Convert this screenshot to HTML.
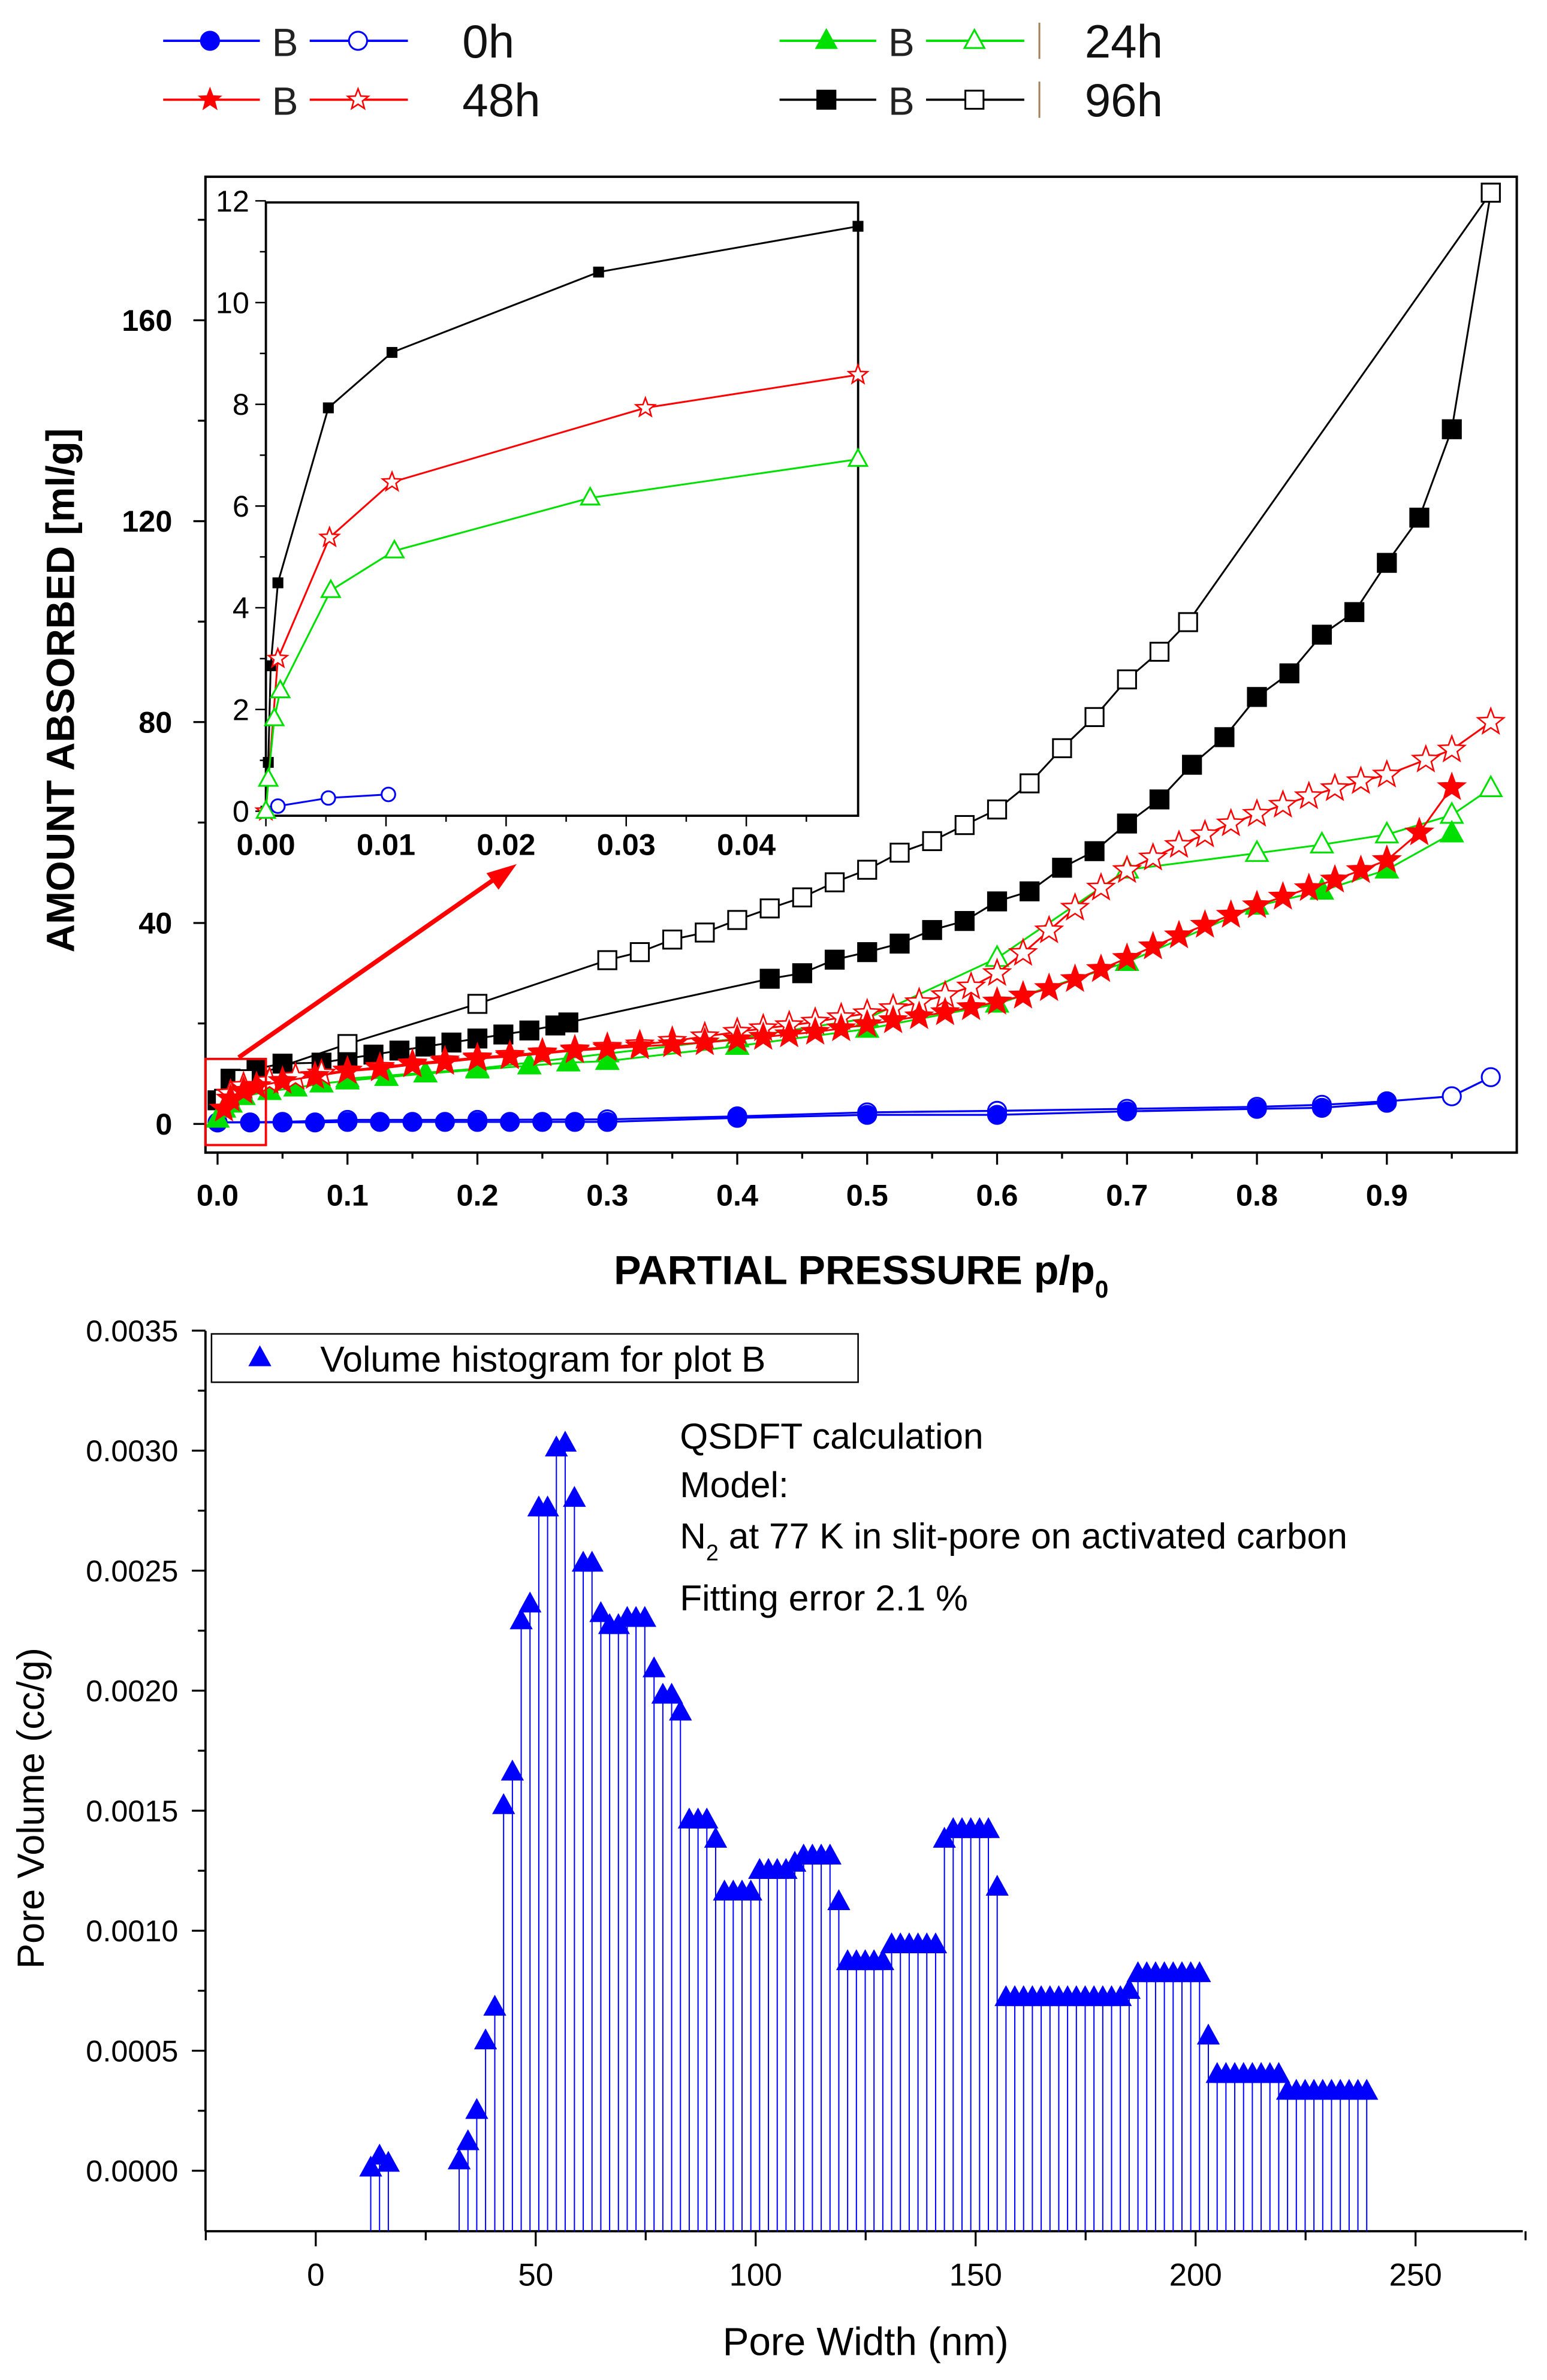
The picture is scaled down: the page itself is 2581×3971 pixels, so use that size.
<!DOCTYPE html>
<html><head><meta charset="utf-8">
<style>
html,body{margin:0;padding:0;background:#fff;}
svg{display:block;}
text{font-family:"Liberation Sans",sans-serif;}
</style></head>
<body>
<svg id="fig" xmlns="http://www.w3.org/2000/svg" width="2581" height="3971" viewBox="0 0 1024 1575.5">
<rect x="0" y="0" width="1024" height="1575.5" fill="#fff"/>
<g id="topChart"></g>
<g id="botChart"></g>
</svg>
<script>
// ---------- Isotherm data ----------
const b0AdsX=[0.0,0.025,0.05,0.075,0.1,0.125,0.15,0.175,0.2,0.225,0.25,0.275,0.3,0.4,0.5,0.6,0.7,0.8,0.85,0.9];
const b0AdsY=[0.3,0.3,0.3,0.3,0.4,0.4,0.4,0.4,0.4,0.4,0.4,0.4,0.4,1.2,1.8,1.8,2.5,3.0,3.2,4.2];
const b0DesX=[0.0,0.05,0.1,0.2,0.3,0.4,0.5,0.6,0.7,0.8,0.85,0.9,0.95,0.98];
const b0DesY=[0.3,0.4,0.8,0.8,0.9,1.5,2.3,2.6,3.0,3.4,3.8,4.5,5.5,9.3];
const b24AdsX=[0.0,0.005,0.01,0.02,0.04,0.06,0.08,0.1,0.13,0.16,0.2,0.24,0.27,0.3,0.4,0.5,0.6,0.7,0.8,0.85,0.9,0.95];
const b24AdsY=[1,3,4,5.5,6.5,7.2,8,8.6,9.3,10,10.8,11.6,12.2,12.5,15.5,18.9,23.9,32.2,43.4,46.4,50.6,57.8];
const b24DesX=[0.1,0.2,0.3,0.4,0.5,0.6,0.7,0.8,0.85,0.9,0.95,0.98];
const b24DesY=[9,11,14,17,21,33,50.6,53.9,55.6,57.6,61.5,66.8];
const b48AdsX=[0.005,0.01,0.02,0.03,0.05,0.075,0.1,0.125,0.15,0.175,0.2,0.225,0.25,0.275,0.3,0.325,0.35,0.375,0.4,0.42,0.44,0.46,0.48,0.5,0.52,0.54,0.56,0.58,0.6,0.62,0.64,0.66,0.68,0.7,0.72,0.74,0.76,0.78,0.8,0.82,0.84,0.86,0.88,0.9,0.925,0.95];
const b48AdsY=[3,5,6.5,7.5,8.5,9.5,10.5,11,11.8,12.3,13,13.4,14,14.6,15,15.4,15.8,16.2,16.8,17.3,17.8,18.3,19,19.8,20.6,21.4,22.2,23.2,24.3,25.5,27,28.8,30.8,33,35.3,37.5,39.6,41.6,43.5,45.2,46.9,48.6,50.5,52.5,58,67];
const b48DesX=[0.01,0.02,0.04,0.06,0.08,0.1,0.125,0.15,0.175,0.2,0.225,0.25,0.275,0.3,0.325,0.35,0.375,0.4,0.42,0.44,0.46,0.48,0.5,0.52,0.54,0.56,0.58,0.6,0.62,0.64,0.66,0.68,0.7,0.72,0.74,0.76,0.78,0.8,0.82,0.84,0.86,0.88,0.9,0.93,0.95,0.98];
const b48DesY=[6,7.5,8.5,9.3,10,10.6,11.3,12,12.6,13.2,13.7,14.2,14.8,15.3,15.8,16.5,17.4,18.3,19,19.6,20.3,21.2,22,23,24.2,25.6,27.3,30,34,38.5,43,47,50.5,53,55.5,57.6,59.8,61.7,63.5,65.2,66.8,68.2,69.5,72.5,74.5,80];
const b96AdsX=[0.0,0.01,0.03,0.05,0.08,0.1,0.12,0.14,0.16,0.18,0.2,0.22,0.24,0.26,0.27,0.425,0.45,0.475,0.5,0.525,0.55,0.575,0.6,0.625,0.65,0.675,0.7,0.725,0.75,0.775,0.8,0.825,0.85,0.875,0.9,0.925,0.95,0.98];
const b96AdsY=[4.7,9,11,12,12.2,13,13.8,14.6,15.4,16.2,17,17.8,18.6,19.6,20.2,28.9,30,32.7,34.2,35.9,38.6,40.4,44.3,46.3,51,54.3,59.8,64.6,71.5,77,85,89.7,97.4,101.9,111.7,120.7,138.3,185.4];
const b96DesX=[0.005,0.02,0.1,0.2,0.3,0.325,0.35,0.375,0.4,0.425,0.45,0.475,0.5,0.525,0.55,0.575,0.6,0.625,0.65,0.675,0.7,0.725,0.747,0.98];
const b96DesY=[5,8.9,15.9,23.9,32.6,34.2,36.7,38.1,40.6,42.9,45.1,48.1,50.6,54,56.3,59.5,62.6,67.8,74.8,81,88.5,94,99.9,185.4];
const xTicks=[0,0.1,0.2,0.3,0.4,0.5,0.6,0.7,0.8,0.9];
const xTickLabels=["0.0","0.1","0.2","0.3","0.4","0.5","0.6","0.7","0.8","0.9"];
const yTicks=[0,40,80,120,160];
// inset
const inBlackX=[0,0.0002,0.0004,0.001,0.0052,0.0105,0.0277,0.0493];
const inBlackY=[0,0.96,2.86,4.49,7.93,9.02,10.6,11.5];
const inRedX=[0,0.001,0.0053,0.0105,0.0316,0.0493];
const inRedY=[0,3.0,5.38,6.47,7.93,8.58];
const inGreenX=[0,0.0002,0.0007,0.0012,0.0054,0.0107,0.027,0.0493];
const inGreenY=[0,0.63,1.82,2.37,4.34,5.12,6.16,6.92];
const inBlueX=[0.001,0.0052,0.0102];
const inBlueY=[0.1,0.26,0.33];
const inXTicks=[0,0.01,0.02,0.03,0.04];
const inXLabels=["0.00","0.01","0.02","0.03","0.04"];
const inYTicks=[0,2,4,6,8,10,12];
// ---------- Histogram data ----------
const poreWidth=[12.5,14.5,16.5,32.6,34.6,36.6,38.6,40.7,42.7,44.7,46.7,48.7,50.7,52.7,54.7,56.7,58.8,60.8,62.8,64.8,66.8,68.8,70.8,72.8,74.8,76.9,78.9,80.9,82.9,84.9,86.9,88.9,90.9,92.9,94.9,96.9,98.9,100.9,102.9,104.9,106.9,108.9,110.9,112.9,114.9,116.9,118.9,120.9,122.9,124.9,126.9,128.9,130.9,132.9,134.9,136.9,138.9,140.9,142.9,144.9,146.9,148.9,150.9,152.9,154.9,156.9,158.9,160.9,162.9,164.9,166.9,168.9,170.9,172.9,174.9,176.9,178.9,180.9,182.9,184.9,186.9,188.9,190.9,192.9,194.9,196.9,198.9,200.9,202.9,204.9,206.9,208.9,210.9,212.9,214.9,216.9,218.9,220.9,222.9,224.9,226.9,228.9,230.9,232.9,234.9,236.9,238.9];
const poreVol=[0.00001,0.00006,0.00003,0.00004,0.00012,0.00025,0.00054,0.00068,0.00152,0.00166,0.00229,0.00236,0.00276,0.00276,0.00301,0.00303,0.0028,0.00253,0.00253,0.00232,0.00227,0.00227,0.0023,0.0023,0.0023,0.00209,0.00198,0.00198,0.00191,0.00146,0.00146,0.00146,0.00138,0.00116,0.00116,0.00116,0.00116,0.00125,0.00125,0.00125,0.00125,0.00128,0.00131,0.00131,0.00131,0.00131,0.00112,0.00087,0.00087,0.00087,0.00087,0.00087,0.00094,0.00094,0.00094,0.00094,0.00094,0.00094,0.00138,0.00142,0.00142,0.00142,0.00142,0.00142,0.00118,0.00072,0.00072,0.00072,0.00072,0.00072,0.00072,0.00072,0.00072,0.00072,0.00072,0.00072,0.00072,0.00072,0.00072,0.00075,0.00082,0.00082,0.00082,0.00082,0.00082,0.00082,0.00082,0.00082,0.00056,0.0004,0.0004,0.0004,0.0004,0.0004,0.0004,0.0004,0.0004,0.00033,0.00033,0.00033,0.00033,0.00033,0.00033,0.00033,0.00033,0.00033,0.00033];
const hYTicks=[0,0.0005,0.001,0.0015,0.002,0.0025,0.003,0.0035];
const hYLabels=["0.0000","0.0005","0.0010","0.0015","0.0020","0.0025","0.0030","0.0035"];
const hXTicks=[0,50,100,150,200,250];

const NS="http://www.w3.org/2000/svg";
function mk(tag,attrs,parent){const e=document.createElementNS(NS,tag);for(const k in attrs)e.setAttribute(k,attrs[k]);parent.appendChild(e);return e;}
const gTop=document.getElementById('topChart'), gBot=document.getElementById('botChart');

// axis functions
const X=p=>144+860*p, Y=v=>744-3.325*v;
const IX=p=>176+7950*p, IY=v=>537-33.67*v;
const HX=w=>209+2.912*w, HY=v=>1437-158.9*(v/0.001);

// ----- top axes -----
let r=mk('rect',{x:136,y:117,width:868,height:646,fill:'none',stroke:'#000','stroke-width':1.6},gTop);

for(let v=0;v<=180;v+=20){const major=v%40===0;let t=mk('line',{x1:136,x2:major?128:131,y1:Y(v),y2:Y(v),stroke:'#000','stroke-width':1.3},gTop);
}
yTicks.forEach(v=>{let t=mk('text',{x:114,y:Y(v)+7,'text-anchor':'end','font-size':20,'font-weight':'bold'},gTop);t.textContent=String(v);
});
for(let i=0;i<=19;i++){const p=i*0.05;const major=i%2===0;let t=mk('line',{x1:X(p),x2:X(p),y1:763,y2:major?771:767,stroke:'#000','stroke-width':1.3},gTop);
}
xTicks.forEach((p,i)=>{let t=mk('text',{x:X(p),y:798,'text-anchor':'middle','font-size':20,'font-weight':'bold'},gTop);t.textContent=xTickLabels[i];
});
let yt=mk('text',{x:0,y:0,transform:'translate(49,457) rotate(-90)','text-anchor':'middle','font-size':26,'font-weight':'bold'},gTop);
yt.textContent='AMOUNT ABSORBED [ml/g]';
let xt=mk('text',{x:570,y:850,'text-anchor':'middle','font-size':27,'font-weight':'bold'},gTop);
xt.textContent='PARTIAL PRESSURE p/p';
let xts=mk('tspan',{'font-size':16,dy:9},xt);xts.textContent='0';

// markers
function starPts(cx,cy,R){let s=[];for(let i=0;i<10;i++){const rr=i%2?R*0.42:R;const a=-Math.PI/2+i*Math.PI/5;s.push((cx+rr*Math.cos(a)).toFixed(1)+','+(cy+rr*Math.sin(a)).toFixed(1));}return s.join(' ');}
function marker(g,type,cx,cy,s,col,filled){
  const fill=filled?col:'#fff';let e;
  if(type==='circle')e=mk('circle',{cx:cx,cy:cy,r:s/2,fill:fill,stroke:col,'stroke-width':1.2},g);
  else if(type==='square')e=mk('rect',{x:cx-s/2,y:cy-s/2,width:s,height:s,fill:fill,stroke:col,'stroke-width':1.2},g);
  else if(type==='tri')e=mk('polygon',{points:`${cx},${cy-s*0.6} ${cx-s*0.55},${cy+s*0.4} ${cx+s*0.55},${cy+s*0.4}`,fill:fill,stroke:col,'stroke-width':1.2},g);
  else e=mk('polygon',{points:starPts(cx,cy,s*0.6),fill:fill,stroke:col,'stroke-width':1},g);
  return e;
}
function series(parent,name,xs,ys,fx,fy,col,type,filled,s,lw){
  const g=mk('g',{},parent);
  const pl=mk('polyline',{points:xs.map((x,i)=>fx(x)+','+fy(ys[i])).join(' '),fill:'none',stroke:col,'stroke-width':lw},g);
  
  if(type)xs.forEach((x,i)=>{const m=marker(g,type,fx(x),fy(ys[i]),s,col,filled);
    });
}
const BL='#0000ff',GR='#00e000',RD='#ff0000',BK='#000';
series(gTop,'series-0h-desorption',b0DesX,b0DesY,X,Y,BL,'circle',false,12,1.3);
series(gTop,'series-0h-adsorption',b0AdsX,b0AdsY,X,Y,BL,'circle',true,12,1.3);
series(gTop,'series-96h-adsorption',b96AdsX,b96AdsY,X,Y,BK,'square',true,12,1.2);
series(gTop,'series-96h-desorption',b96DesX,b96DesY,X,Y,BK,'square',false,12,1.2);
series(gTop,'series-24h-desorption',b24DesX,b24DesY,X,Y,GR,'tri',false,13,1.2);
series(gTop,'series-24h-adsorption',b24AdsX,b24AdsY,X,Y,GR,'tri',true,13,1.2);
series(gTop,'series-48h-desorption',b48DesX,b48DesY,X,Y,RD,'star',false,15,1.2);
series(gTop,'series-48h-adsorption',b48AdsX,b48AdsY,X,Y,RD,'star',true,15,1.2);

// zoom box & arrow
let zb=mk('rect',{x:136,y:701,width:40,height:57,fill:'none',stroke:RD,'stroke-width':1.5},gTop);

let ar=mk('line',{x1:158,y1:700,x2:333,y2:578,stroke:RD,'stroke-width':3},gTop);

let ah=mk('polygon',{points:'342,572 322,578 330,589',fill:RD},gTop);


// ----- inset -----
const ins=mk('g',{},gTop);
let ib=mk('rect',{x:176,y:134,width:392,height:406,fill:'#fff',stroke:'#000','stroke-width':1.5},ins);

for(let v=0;v<=12;v++){let t=mk('line',{x1:176,x2:v%2?172:169,y1:IY(v),y2:IY(v),stroke:'#000','stroke-width':1},ins);
}
inYTicks.forEach(v=>{let t=mk('text',{x:165,y:IY(v)+7,'text-anchor':'end','font-size':20,'font-family':'Liberation Serif'},ins);t.textContent=String(v);
});
for(let i=0;i<=9;i++){const p=i*0.005;let t=mk('line',{x1:IX(p),x2:IX(p),y1:540,y2:i%2?544:547,stroke:'#000','stroke-width':1},ins);
}
inXTicks.forEach((p,i)=>{let t=mk('text',{x:IX(p),y:566,'text-anchor':'middle','font-size':20,'font-weight':'bold','font-family':'Liberation Serif'},ins);t.textContent=inXLabels[i];
});
series(ins,'inset-96h',inBlackX,inBlackY,IX,IY,BK,'square',true,6,1.2);
series(ins,'inset-48h',inRedX,inRedY,IX,IY,RD,'star',false,11,1.2);
series(ins,'inset-24h',inGreenX,inGreenY,IX,IY,GR,'tri',false,11,1.2);
series(ins,'inset-0h',inBlueX,inBlueY,IX,IY,BL,'circle',false,9,1.2);

// ----- legend -----
const lg=mk('g',{},gTop);
function legRow(x0,y,col,type,label,bar){
  const g=mk('g',{},lg);
  mk('line',{x1:x0,x2:x0+64,y1:y,y2:y,stroke:col,'stroke-width':1.5},g);
  marker(g,type,x0+31,y,12,col,true);
  let b=mk('text',{x:x0+72,y:y+10,'font-size':26,fill:'#222'},g);b.textContent='B';
  mk('line',{x1:x0+97,x2:x0+162,y1:y,y2:y,stroke:col,'stroke-width':1.5},g);
  marker(g,type,x0+129,y,12,col,false);
  if(bar)mk('line',{x1:x0+172,x2:x0+172,y1:y-12,y2:y+12,stroke:'#a0825a','stroke-width':1.2},g);
  let t=mk('text',{x:bar?x0+202:x0+198,y:y+11,'font-size':31,fill:'#111'},g);t.textContent=label;
}
legRow(108,27,BL,'circle','0h',false);
legRow(108,66,RD,'star','48h',false);
legRow(516,27,GR,'tri','24h',true);
legRow(516,66,BK,'square','96h',true);

// ----- histogram -----
let la=mk('line',{x1:136,x2:136,y1:881,y2:1477,stroke:'#000','stroke-width':1.5},gBot);

let ba=mk('line',{x1:136,x2:1008,y1:1477,y2:1477,stroke:'#000','stroke-width':1.5},gBot);

for(let i=0;i<=14;i++){const v=i*0.00025;let t=mk('line',{x1:136,x2:i%2?131:127,y1:HY(v),y2:HY(v),stroke:'#000','stroke-width':1.3},gBot);
}
hYTicks.forEach((v,i)=>{let t=mk('text',{x:118,y:HY(v)+7,'text-anchor':'end','font-size':20},gBot);t.textContent=hYLabels[i];
});
for(let w=-25;w<=275;w+=25){let t=mk('line',{x1:HX(w),x2:HX(w),y1:1477,y2:w%50?1483:1487,stroke:'#000','stroke-width':1.3},gBot);
}
hXTicks.forEach(w=>{let t=mk('text',{x:HX(w),y:1513,'text-anchor':'middle','font-size':21},gBot);t.textContent=String(w);
});
let hxt=mk('text',{x:573,y:1559,'text-anchor':'middle','font-size':26},gBot);hxt.textContent='Pore Width (nm)';

let hyt=mk('text',{x:0,y:0,transform:'translate(29,1197) rotate(-90)','text-anchor':'middle','font-size':25},gBot);hyt.textContent='Pore Volume (cc/g)';

const hg=mk('g',{},gBot);
poreWidth.forEach((w,i)=>{
  let s=mk('line',{x1:HX(w),x2:HX(w),y1:1477,y2:HY(poreVol[i]),stroke:BL,'stroke-width':0.8},hg);
  
});
poreWidth.forEach((w,i)=>{
  let m=marker(hg,'tri',HX(w),HY(poreVol[i]),12,BL,true);
  
});
// legend box
const hl=mk('g',{},gBot);
mk('rect',{x:140,y:883,width:428,height:32,fill:'#fff',stroke:'#000','stroke-width':1},hl);
marker(hl,'tri',172,899,12,BL,true);
let hlt=mk('text',{x:212,y:908,'font-size':24},hl);hlt.textContent='Volume histogram for plot B';
// annotations
const an=mk('g',{},gBot);
[['QSDFT calculation',959],['Model:',991]].forEach(a=>{let t=mk('text',{x:450,y:a[1],'font-size':24},an);t.textContent=a[0];});
let n2=mk('text',{x:450,y:1025,'font-size':24},an);n2.textContent='N';
let n2s=mk('tspan',{'font-size':15,dy:8},n2);n2s.textContent='2';
let n2r=mk('tspan',{dy:-8},n2);n2r.textContent=' at 77 K in slit-pore on activated carbon';
let fe=mk('text',{x:450,y:1066,'font-size':24},an);fe.textContent='Fitting error 2.1 %';
</script>
</body></html>
